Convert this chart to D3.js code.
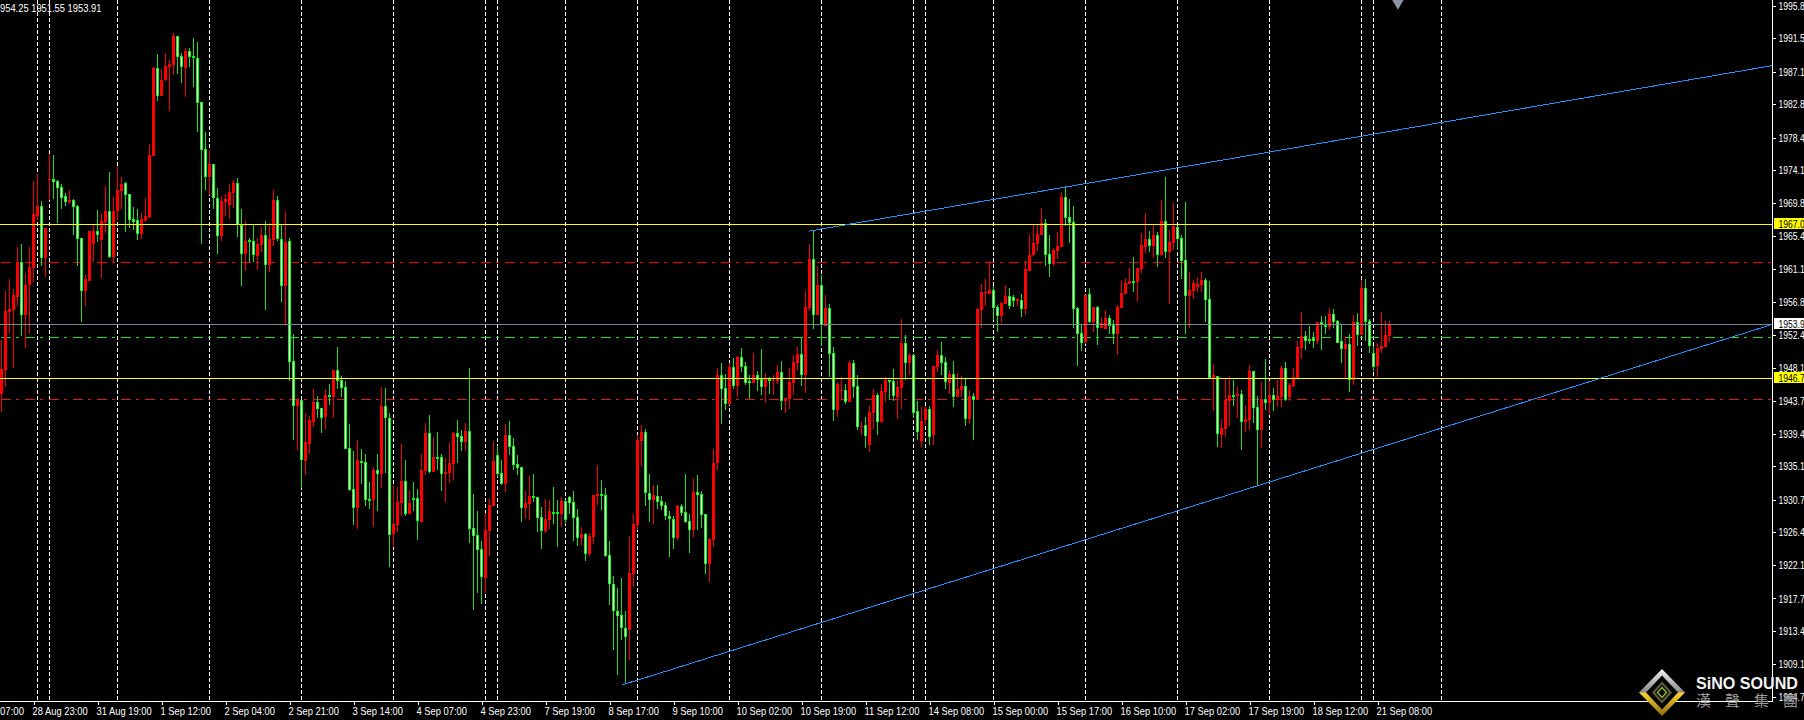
<!DOCTYPE html>
<html>
<head>
<meta charset="utf-8">
<style>
html,body{margin:0;padding:0;background:#000;overflow:hidden}
svg{display:block}
text{font-family:"Liberation Sans",sans-serif;font-size:11px;fill:#fff}
</style>
<script src="https://cdn.jsdelivr.net/npm/d3@7/dist/d3.min.js"></script>
</head>
<body>
<svg id="c" width="1804" height="720"></svg>
<script>
const opens=[1944.6,1947.8,1955.4,1955.7,1957.4,1962.0,1955.1,1959.0,1961.2,1968.1,
1969.4,1962.6,1972.9,1973.0,1972.7,1971.9,1970.7,1969.9,1970.2,1969.4,
1965.2,1958.2,1959.5,1964.4,1966.1,1964.9,1967.3,1968.8,1962.7,1968.8,
1971.4,1972.4,1971.0,1967.7,1967.6,1965.7,1967.6,1968.0,1976.0,1987.6,
1983.9,1986.0,1987.7,1988.0,1991.8,1989.2,1987.6,1989.8,1989.2,1988.9,
1983.1,1976.9,1973.2,1974.9,1970.5,1965.4,1969.9,1969.5,1971.1,1972.4,
1966.9,1963.1,1964.9,1964.8,1962.8,1964.3,1965.6,1961.6,1964.9,1970.2,
1965.1,1958.9,1964.8,1949.0,1943.1,1943.9,1935.8,1938.0,1940.9,1943.6,
1942.8,1941.6,1944.5,1944.2,1947.8,1946.5,1945.6,1937.5,1932.1,1929.6,
1935.8,1935.7,1930.8,1930.7,1934.6,1934.1,1943.1,1941.5,1926.2,1927.4,
1930.3,1933.2,1928.8,1930.9,1930.9,1927.8,1934.5,1939.5,1934.4,1936.4,
1936.4,1934.1,1934.2,1935.4,1939.5,1939.1,1938.3,1939.8,1927.0,1926.1,
1924.2,1920.4,1926.6,1929.9,1936.6,1934.2,1932.8,1939.2,1937.8,1935.4,
1935.0,1929.6,1930.1,1931.2,1931.1,1928.4,1926.6,1928.0,1929.1,1929.1,
1928.8,1930.5,1931.1,1930.4,1928.4,1925.7,1926.2,1923.6,1925.8,1931.2,
1931.5,1931.3,1923.4,1919.6,1916.0,1915.5,1913.8,1913.6,1920.9,1927.4,
1938.4,1939.6,1931.6,1930.7,1931.2,1930.5,1930.0,1928.6,1928.2,1925.7,
1929.9,1929.1,1927.9,1926.7,1931.7,1931.5,1928.8,1922.2,1925.4,1935.6,
1947.1,1945.4,1943.3,1948.2,1945.7,1949.5,1948.3,1946.4,1946.1,1947.1,
1946.6,1945.6,1946.6,1946.3,1946.3,1947.6,1943.7,1944.0,1946.1,1948.7,
1949.9,1947.1,1956.0,1962.4,1955.1,1959.0,1953.6,1956.0,1950.1,1942.5,
1945.0,1945.2,1943.6,1948.7,1945.7,1940.3,1940.6,1937.9,1942.1,1944.5,
1940.9,1944.9,1946.5,1946.3,1944.2,1945.4,1951.4,1948.7,1949.8,1942.4,
1938.5,1941.2,1942.7,1939.2,1948.2,1949.8,1948.9,1946.1,1947.3,1944.2,
1945.2,1945.7,1941.3,1944.4,1943.9,1955.7,1957.9,1957.8,1958.3,1956.1,
1954.9,1956.5,1957.6,1957.4,1956.9,1957.0,1955.8,1960.8,1963.0,1964.4,
1965.6,1967.2,1963.1,1961.8,1963.5,1964.0,1970.6,1968.0,1967.3,1956.0,
1952.7,1951.5,1957.8,1954.1,1956.1,1953.3,1953.2,1954.7,1953.7,1952.5,
1956.0,1957.8,1959.1,1959.5,1959.4,1961.1,1964.0,1965.1,1964.2,1965.6,
1963.0,1967.4,1963.3,1964.5,1966.6,1965.2,1962.3,1957.6,1958.2,1958.7,
1959.0,1959.7,1957.2,1946.7,1947.0,1939.2,1940.0,1943.7,1944.5,1944.4,
1944.6,1940.9,1941.2,1947.7,1942.9,1939.9,1944.0,1943.5,1944.5,1943.9,
1944.2,1948.1,1944.2,1945.7,1946.7,1950.7,1952.3,1951.9,1952.0,1951.6,
1954.1,1953.7,1953.5,1955.2,1954.3,1951.6,1950.6,1951.2,1946.5,1954.1,
1952.4,1958.6,1954.3,1950.0,1948.3,1950.6,1950.8,1952.3];
const highs=[1951.8,1958.2,1959.8,1958.5,1964.0,1964.4,1960.6,1964.0,1972.7,1973.6,
1970.1,1966.5,1976.3,1976.1,1972.8,1972.3,1971.1,1971.5,1970.3,1969.5,
1965.2,1960.5,1966.1,1966.9,1968.9,1968.5,1972.0,1973.9,1970.6,1974.7,
1973.2,1972.6,1971.0,1969.3,1969.0,1968.5,1970.5,1977.6,1987.7,1989.4,
1987.5,1989.6,1988.6,1992.2,1991.8,1989.6,1990.2,1990.2,1991.5,1991.0,
1983.1,1979.2,1976.8,1974.9,1971.8,1970.7,1971.0,1972.3,1972.8,1973.1,
1969.0,1967.4,1965.2,1966.9,1965.2,1966.6,1967.4,1967.2,1971.5,1970.7,
1967.0,1968.8,1965.2,1952.5,1944.1,1943.9,1942.1,1941.7,1945.3,1944.4,
1942.8,1945.3,1945.9,1947.8,1950.8,1947.0,1946.3,1940.7,1937.1,1938.6,
1937.4,1936.7,1933.0,1935.0,1936.7,1945.6,1945.4,1942.1,1932.6,1932.4,
1938.1,1936.0,1932.0,1933.0,1932.1,1936.7,1940.8,1941.9,1939.0,1939.6,
1936.7,1936.2,1938.2,1939.6,1941.2,1939.9,1940.8,1948.1,1931.5,1929.2,
1925.3,1929.0,1930.9,1938.4,1937.8,1936.0,1940.7,1941.1,1938.9,1936.6,
1935.0,1931.9,1933.8,1934.1,1931.1,1929.7,1930.8,1930.7,1932.4,1930.7,
1931.1,1930.7,1931.2,1931.9,1929.5,1927.1,1926.3,1926.3,1931.3,1935.3,
1933.3,1932.3,1925.3,1920.7,1919.1,1920.4,1916.0,1925.9,1928.8,1939.2,
1940.6,1940.0,1934.1,1932.6,1932.6,1931.2,1930.4,1929.2,1928.6,1930.0,
1930.1,1934.1,1928.8,1933.6,1934.0,1931.9,1928.8,1925.7,1937.4,1948.1,
1948.7,1947.3,1948.7,1949.4,1949.6,1950.7,1948.9,1947.1,1950.0,1947.7,
1950.6,1947.4,1946.9,1947.1,1948.5,1949.0,1944.1,1948.1,1949.8,1950.8,
1952.0,1958.2,1964.4,1966.1,1961.5,1960.3,1957.7,1956.5,1950.8,1946.2,
1946.9,1945.9,1949.0,1949.1,1947.1,1941.1,1941.6,1943.2,1945.3,1944.8,
1945.9,1946.9,1946.5,1947.9,1946.5,1954.5,1952.4,1950.0,1949.8,1943.7,
1942.9,1943.1,1943.1,1948.3,1950.4,1951.5,1949.5,1947.8,1949.0,1947.4,
1947.0,1946.6,1945.2,1944.8,1956.0,1959.1,1959.8,1962.2,1958.9,1956.4,
1956.8,1959.0,1958.6,1957.7,1957.2,1957.8,1962.3,1965.6,1966.9,1966.9,
1969.2,1967.7,1965.6,1963.9,1966.0,1971.2,1972.0,1970.3,1969.4,1956.1,
1953.7,1957.7,1958.6,1956.1,1956.2,1954.8,1955.7,1955.1,1954.4,1956.4,
1959.7,1959.9,1961.2,1962.7,1961.2,1965.9,1968.5,1966.1,1966.9,1966.0,
1970.2,1973.2,1966.2,1969.8,1966.8,1965.6,1969.9,1960.7,1959.7,1960.1,
1960.7,1959.9,1959.5,1948.6,1947.0,1941.3,1946.7,1947.0,1946.5,1945.6,
1945.2,1943.2,1948.5,1947.7,1944.4,1946.2,1949.2,1946.3,1945.4,1946.5,
1948.3,1948.9,1946.1,1948.1,1951.6,1955.4,1952.9,1953.6,1952.8,1954.1,
1954.9,1954.9,1956.0,1955.8,1954.4,1953.7,1952.3,1952.5,1955.1,1955.3,
1959.7,1959.8,1954.5,1951.0,1951.4,1955.4,1954.2,1954.25];
const lows=[1942.3,1945.6,1952.7,1948.1,1956.2,1952.3,1950.7,1952.5,1959.4,1967.6,
1961.5,1960.1,1970.2,1970.3,1967.2,1969.0,1969.4,1969.7,1965.6,1961.5,
1954.1,1956.2,1959.5,1962.0,1964.7,1959.9,1965.9,1962.5,1962.0,1967.6,
1969.0,1966.0,1966.5,1966.3,1964.9,1965.1,1967.3,1967.8,1976.0,1983.2,
1983.9,1985.9,1981.9,1986.7,1986.8,1985.6,1983.8,1987.7,1985.1,1979.2,
1964.4,1971.5,1970.9,1969.0,1963.1,1964.8,1968.1,1967.7,1969.1,1965.3,
1958.9,1960.8,1962.0,1962.0,1961.0,1963.3,1955.7,1960.7,1964.1,1964.8,
1956.8,1953.6,1946.3,1938.6,1937.3,1932.3,1934.0,1936.7,1940.3,1941.5,
1939.5,1940.0,1943.2,1941.5,1945.3,1944.2,1937.4,1931.9,1927.4,1926.9,
1932.8,1929.9,1929.5,1927.1,1929.2,1932.3,1934.2,1921.8,1924.5,1926.4,
1928.6,1928.6,1928.8,1929.2,1925.4,1927.8,1934.0,1934.2,1934.4,1934.6,
1931.9,1930.4,1932.9,1933.3,1935.6,1937.1,1937.1,1925.0,1916.2,1918.4,
1917.0,1918.4,1923.3,1929.9,1933.7,1932.6,1931.7,1936.6,1934.6,1934.0,
1927.8,1928.2,1928.0,1930.4,1926.4,1924.2,1926.3,1926.9,1927.5,1924.5,
1927.1,1927.5,1928.8,1925.3,1924.6,1924.8,1922.6,1923.3,1924.9,1930.0,
1929.4,1923.2,1916.8,1910.9,1907.6,1912.2,1906.6,1909.6,1919.2,1926.7,
1935.2,1929.9,1927.8,1927.5,1929.5,1929.4,1928.0,1923.2,1924.2,1925.4,
1928.6,1927.6,1923.7,1925.8,1926.7,1927.0,1920.9,1919.9,1924.5,1934.6,
1940.7,1942.5,1943.2,1945.3,1944.2,1947.5,1945.8,1944.0,1946.1,1945.0,
1944.5,1943.4,1944.6,1944.5,1945.9,1942.5,1942.1,1942.7,1944.5,1947.8,
1945.7,1944.8,1955.6,1953.2,1955.1,1951.0,1953.6,1946.9,1941.1,1941.6,
1943.9,1943.3,1943.6,1944.1,1939.9,1939.2,1937.5,1937.0,1940.0,1939.2,
1940.8,1943.6,1943.9,1943.7,1941.3,1942.7,1946.5,1947.1,1941.5,1938.6,
1937.7,1940.6,1937.9,1937.9,1947.5,1947.1,1945.3,1944.6,1942.9,1944.2,
1944.2,1940.4,1940.7,1938.6,1943.9,1953.3,1956.2,1957.8,1954.4,1952.8,
1954.0,1956.5,1955.8,1956.1,1956.2,1954.8,1955.1,1960.8,1962.8,1963.5,
1965.6,1961.5,1960.1,1961.5,1962.4,1964.0,1966.8,1964.5,1953.3,1948.3,
1950.3,1951.2,1954.0,1952.8,1951.1,1953.3,1953.2,1952.5,1951.2,1949.8,
1956.0,1957.8,1959.1,1958.1,1956.8,1960.6,1963.2,1963.3,1962.6,1961.4,
1962.8,1962.6,1956.5,1963.6,1963.6,1959.8,1952.5,1953.3,1957.2,1958.1,
1958.1,1954.1,1946.7,1942.4,1937.7,1937.5,1939.0,1940.4,1943.1,1941.5,
1937.3,1939.6,1939.9,1940.8,1932.6,1937.5,1942.5,1941.9,1942.4,1942.9,
1942.9,1943.7,1943.7,1945.6,1946.6,1949.2,1950.4,1951.2,1950.7,1951.2,
1950.4,1952.5,1953.1,1953.3,1951.4,1948.7,1946.7,1944.9,1945.8,1951.0,
1952.4,1951.6,1950.0,1947.7,1946.9,1950.0,1950.8,1951.55];
const closes=[1947.9,1955.6,1955.8,1957.7,1962.0,1955.1,1959.0,1961.4,1968.4,1969.4,
1962.6,1966.5,1973.0,1972.6,1971.8,1970.5,1969.9,1970.2,1969.3,1965.1,
1958.2,1959.8,1966.1,1966.1,1965.6,1967.4,1968.8,1962.7,1968.8,1971.5,
1972.3,1970.9,1967.6,1967.3,1965.7,1967.7,1968.1,1976.1,1987.6,1983.9,
1986.0,1987.9,1988.1,1991.8,1989.0,1987.7,1989.8,1989.0,1988.9,1983.0,
1976.8,1973.2,1974.9,1970.5,1965.4,1970.1,1970.3,1971.2,1972.4,1966.9,
1963.1,1964.8,1964.7,1963.0,1964.4,1965.6,1961.6,1965.1,1970.2,1965.1,
1958.9,1964.7,1948.9,1943.1,1943.9,1936.0,1938.3,1941.2,1943.6,1942.7,
1941.5,1944.5,1944.2,1947.8,1946.3,1945.4,1937.4,1932.0,1929.6,1936.0,
1935.6,1930.7,1930.5,1934.6,1934.1,1943.1,1941.5,1926.0,1927.5,1930.4,
1933.2,1928.8,1930.3,1930.8,1927.9,1934.6,1939.5,1934.4,1936.4,1936.3,
1934.1,1934.4,1935.6,1939.5,1939.0,1938.3,1939.8,1926.9,1925.9,1924.1,
1920.5,1926.7,1930.0,1935.8,1934.1,1932.8,1939.2,1937.7,1935.3,1934.9,
1929.6,1930.3,1931.2,1930.9,1928.3,1926.6,1928.2,1929.2,1929.0,1928.8,
1930.5,1928.0,1930.3,1928.3,1925.7,1926.2,1923.6,1925.9,1931.3,1931.5,
1931.3,1923.3,1919.6,1916.0,1915.4,1913.8,1912.6,1921.0,1927.5,1938.6,
1939.6,1931.6,1930.7,1931.3,1930.4,1929.9,1928.6,1928.2,1925.7,1929.9,
1929.0,1927.8,1926.7,1931.7,1931.3,1928.7,1922.2,1925.5,1935.6,1947.1,
1945.3,1943.3,1948.2,1945.7,1949.5,1948.2,1946.1,1946.1,1947.1,1946.5,
1945.6,1946.6,1946.3,1946.5,1947.6,1943.7,1944.1,1946.2,1948.9,1949.9,
1947.1,1956.1,1962.4,1955.1,1959.0,1953.7,1956.0,1949.9,1942.5,1945.9,
1945.2,1943.6,1948.7,1945.6,1940.3,1940.4,1939.1,1942.3,1944.5,1940.9,
1945.0,1946.5,1946.2,1944.4,1945.6,1951.4,1948.7,1949.8,1942.1,1939.6,
1941.1,1942.7,1939.0,1948.3,1949.8,1948.7,1946.2,1947.3,1944.2,1945.3,
1945.7,1941.3,1944.4,1943.9,1955.8,1958.1,1958.1,1958.3,1956.0,1954.9,
1956.6,1957.6,1956.2,1956.9,1957.2,1955.8,1961.1,1963.0,1964.5,1965.7,
1967.2,1963.0,1961.8,1963.6,1964.1,1970.6,1967.8,1967.2,1955.8,1952.5,
1951.4,1957.7,1954.1,1956.1,1953.3,1954.0,1954.7,1953.6,1952.5,1956.1,
1958.0,1959.3,1959.5,1959.4,1961.2,1964.3,1965.1,1964.2,1965.6,1963.0,
1967.4,1963.3,1964.7,1966.8,1965.1,1962.2,1957.6,1958.3,1959.3,1959.1,
1959.7,1957.0,1946.7,1947.1,1939.4,1940.2,1943.9,1944.5,1944.4,1944.6,
1940.9,1941.3,1947.7,1942.8,1939.9,1944.0,1943.5,1944.5,1943.9,1944.4,
1948.1,1943.9,1945.8,1946.9,1950.8,1952.3,1951.6,1951.6,1951.6,1954.1,
1953.7,1953.5,1955.2,1954.1,1951.4,1950.6,1951.2,1946.5,1954.1,1952.4,
1958.6,1954.1,1951.0,1948.2,1950.7,1951.0,1952.4,1953.91];

const priceTicks=[1995.8,1991.5,1987.1,1982.8,1978.4,1974.1,1969.8,1965.4,1961.1,1956.8,1952.4,1948.1,1943.7,1939.4,1935.1,1930.7,1926.4,1922.1,1917.7,1913.4,1909.1,1904.7];
const dateTickBars=[8,24,40,56,72,88,104,120,136,152,168,184,200,216,232,248,264,280,296,312,328,344];
const dateLabels=["28 Aug 23:00","31 Aug 19:00","1 Sep 12:00","2 Sep 04:00","2 Sep 21:00","3 Sep 14:00","4 Sep 07:00","4 Sep 23:00","7 Sep 19:00","8 Sep 17:00","9 Sep 10:00","10 Sep 02:00","10 Sep 19:00","11 Sep 12:00","14 Sep 08:00","15 Sep 00:00","15 Sep 17:00","16 Sep 10:00","17 Sep 02:00","17 Sep 19:00","18 Sep 12:00","21 Sep 08:00"];
const firstDateLabel="07:00";
const separatorBars=[9,12,29,52,75,98,121,124,141,159,182,205,228,231,248,271,294,317,340,343,360];
const solidLevels=[1967.0,1946.7];
const currentPrice=1953.9;
const redLevels=[1962.0,1944.0];
const greenLevels=[1952.1];
const trendUpperBars=[201.9,442.625], trendUpperPrices=[1966.1,1987.9];
const trendLowerBars=[155.1,442.625], trendLowerPrices=[1906.3,1953.8];
const ohlcText="954.25 1951.55 1953.91";

const W=1804,H=720,axisX=1772,axisY=701;
const x=d3.scaleLinear().domain([0,442.625]).range([1.5,axisX]);
const y=d3.scaleLinear().domain([1996.55,1903.93]).range([0,703]);
const ry=p=>Math.round(y(p));
const svg=d3.select("#c");
const fit=(sel,ratio)=>sel.each(function(){
  const w=this.getComputedTextLength();
  d3.select(this).attr("textLength",w*ratio).attr("lengthAdjust","spacingAndGlyphs");
});
svg.append("rect").attr("width",W).attr("height",H).attr("fill","#000");
const defs=svg.append("defs");
defs.append("clipPath").attr("id","plot").append("rect").attr("width",axisX).attr("height",axisY);
const plot=svg.append("g").attr("clip-path","url(#plot)").attr("shape-rendering","crispEdges");

plot.selectAll(".sep").data(separatorBars).join("line")
  .attr("x1",d=>x(d)).attr("x2",d=>x(d)).attr("y1",0).attr("y2",axisY)
  .attr("stroke","#fff").attr("stroke-dasharray","4,2");

function dashLevels(levels,colors){
  plot.selectAll(null).data(levels).join("line")
    .attr("x1",1).attr("x2",axisX-1).attr("y1",d=>ry(d)+.5).attr("y2",d=>ry(d)+.5)
    .attr("stroke",(d,i)=>colors[i]).attr("stroke-dasharray","10,5,3,6");
}
dashLevels(redLevels,["#ff0000","#e81515"]);
dashLevels(greenLevels,["#22dd22"]);

const bars=d3.range(opens.length);
const isUp=i=>closes[i]>opens[i];
plot.selectAll(".wick").data(bars).join("rect")
  .attr("x",i=>x(i)-.5).attr("width",1)
  .attr("y",i=>ry(highs[i])).attr("height",i=>Math.max(1,ry(lows[i])-ry(highs[i])))
  .attr("fill",i=>isUp(i)?"#f00000":"#20dc20");
const bodyTop=i=>ry(Math.max(opens[i],closes[i]));
const bodyH=i=>Math.max(isUp(i)?1:2,ry(Math.min(opens[i],closes[i]))-bodyTop(i));
plot.selectAll(".body").data(bars).join("rect")
  .attr("x",i=>x(i)-1.5).attr("width",3)
  .attr("y",bodyTop).attr("height",bodyH)
  .attr("fill",i=>isUp(i)?"#ff0000":"#00ff00");
plot.selectAll(".core").data(bars.filter(i=>!isUp(i)&&bodyH(i)>2)).join("rect")
  .attr("x",i=>x(i)-.5).attr("width",1)
  .attr("y",i=>bodyTop(i)+1).attr("height",i=>bodyH(i)-2)
  .attr("fill","#fff");

plot.selectAll(".solid").data(solidLevels).join("line")
  .attr("x1",0).attr("x2",axisX).attr("y1",d=>ry(d)+.5).attr("y2",d=>ry(d)+.5)
  .attr("stroke","#ffff00");
plot.append("line").attr("x1",0).attr("x2",axisX).attr("y1",ry(currentPrice)+.5).attr("y2",ry(currentPrice)+.5).attr("stroke","#778899");

const lineGen=d3.line().x(d=>x(d[0])).y(d=>y(d[1]));
[[trendUpperBars,trendUpperPrices],[trendLowerBars,trendLowerPrices]].forEach(([b,p])=>{
  plot.append("path").attr("d",lineGen(d3.zip(b,p))).attr("fill","none").attr("stroke","#1e90ff").attr("stroke-width",1);
});

/* small marker clipped at the top edge */
svg.append("path").attr("d",d3.symbol(d3.symbolDiamond,110)())
  .attr("transform",`translate(${x(349.1)},${y(1996.55)})`).attr("fill","#8a96a6");

/* price axis */
const yAxis=d3.axisRight(y).tickValues(priceTicks).tickFormat(d3.format(".1f")).tickSize(3).tickPadding(3);
const gy=svg.append("g").attr("transform",`translate(${axisX+.5},0)`).call(yAxis);
gy.select(".domain").remove();
gy.attr("font-size",null).attr("font-family",null);
gy.selectAll("line").attr("stroke","#fff").attr("shape-rendering","crispEdges");
gy.selectAll("text").attr("fill","#fff").call(fit,0.78);

/* time axis */
const xAxis=d3.axisBottom(x).tickValues(dateTickBars).tickFormat((d,i)=>dateLabels[i]).tickSize(3).tickPadding(3);
const gx=svg.append("g").attr("transform",`translate(0,${axisY+.5})`).call(xAxis);
gx.select(".domain").remove();
gx.attr("font-size",null).attr("font-family",null);
gx.selectAll("line").attr("stroke","#fff").attr("shape-rendering","crispEdges");
gx.selectAll("text").attr("text-anchor","start").attr("dx",-1.5).attr("dy","0").attr("y",13).attr("fill","#fff").call(fit,0.85);
svg.append("text").attr("x",0).attr("y",axisY+.5+13).text(firstDateLabel).call(fit,0.87);

/* axis frame */
svg.append("line").attr("x1",0).attr("x2",axisX+1).attr("y1",axisY+.5).attr("y2",axisY+.5).attr("stroke","#fff").attr("shape-rendering","crispEdges");
svg.append("line").attr("x1",axisX+.5).attr("x2",axisX+.5).attr("y1",0).attr("y2",axisY).attr("stroke","#fff").attr("shape-rendering","crispEdges");

/* highlighted price boxes */
const boxes=[[solidLevels[0],"#ffff00"],[solidLevels[1],"#ffff00"],[currentPrice,"#ffffff"]];
boxes.forEach(([p,c])=>{
  const g=svg.append("g");
  g.append("rect").attr("x",axisX+2).attr("width",W-axisX-2).attr("y",ry(p)-6).attr("height",11).attr("fill",c).attr("shape-rendering","crispEdges");
  g.append("text").attr("x",axisX+6.5).attr("y",ry(p)+3.5).style("fill","#000").text(d3.format(".1f")(p)).call(fit,0.78);
});

/* OHLC header */
svg.append("text").attr("x",0).attr("y",12).text(ohlcText).call(fit,0.85);

/* logo */
const logo=svg.append("g").attr("transform","translate(1662,692.5)");
const grad=defs.append("linearGradient").attr("id","lg").attr("x1",0).attr("x2",0).attr("y1",0).attr("y2",1);
[[0,"#f2f2f2"],[.48,"#8d8d8d"],[.52,"#f4d030"],[1,"#8f6c10"]].forEach(([o,c])=>grad.append("stop").attr("offset",o).attr("stop-color",c));
const diamond=(rx,ryy)=>`M0,${-ryy}L${rx},0L0,${ryy}L${-rx},0Z`;
logo.append("path").attr("d",diamond(23,23.5)).attr("fill","url(#lg)");
logo.append("path").attr("d",diamond(16,17)).attr("fill","#050505");
logo.append("path").attr("d",diamond(10,11)).attr("fill","#5c5c3c");
logo.append("path").attr("d",diamond(7,8)).attr("fill","#060606");
logo.append("path").attr("d",diamond(4.5,5)).attr("fill","none").attr("stroke","#93b92c").attr("stroke-width",1.4);

svg.append("text").attr("x",1696).attr("y",688.5).attr("textLength",102).attr("lengthAdjust","spacingAndGlyphs")
  .style("font-family","'Liberation Sans',sans-serif").style("font-size","16px").style("font-weight","700").style("fill","#f4f4f4").text("SiNO SOUND");
svg.append("text").attr("x",1696).attr("y",706).attr("textLength",102)
  .style("font-family","'Noto Sans CJK TC',sans-serif").style("font-size","15px").style("fill","#9c9c9c").text("漢聲集團");
</script>
</body>
</html>
